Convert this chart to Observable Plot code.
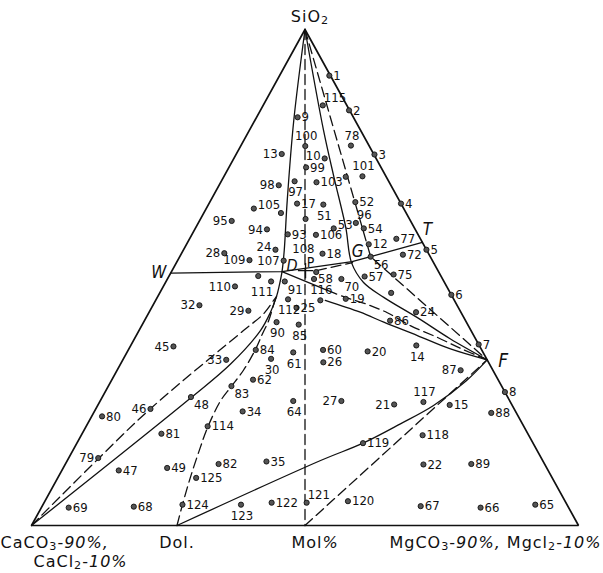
<!DOCTYPE html>
<html><head><meta charset="utf-8">
<script src="https://cdn.jsdelivr.net/npm/d3@7"></script>
<script src="https://cdn.jsdelivr.net/npm/@observablehq/plot@0.6"></script>
<style>html,body{margin:0;padding:0;background:#fff}svg{display:block}</style>
</head><body><div id="chart"></div>
<script>
// ---------- DATA (ternary composition, mol%: SiO2, MgCO3; CaCO3 = remainder) ----------
const vertices = [[100, 0], [0, 0], [0, 100]]; // SiO2, CaCO3 corner, MgCO3 corner

// labelled samples: [label, SiO2, MgCO3]
const samples = [
  ["1",90.7,9.1],["115",84.7,10.9],["2",83.7,16.2],["9",82.3,7.5],["100",76.5,11.8],
  ["78",76.6,20.1],["3",74.8,25.3],["13",74.9,8.3],["10",74.0,16.6],["99",72.2,14.1],
  ["101",70.4,25.3],["98",68.6,10.9],["97",69.4,13.4],["103",69.2,17.5],["4",64.9,35.1],
  ["105",63.9,8.7],["17",64.9,16.1],["51",64.7,21.0],["52",65.2,26.6],["53",59.9,25.3],
  ["96",61.0,28.8],["54",59.9,30.8],["12",56.7,33.3],["77",57.8,37.8],["5",55.6,44.4],
  ["72",54.6,40.6],["56",54.2,34.9],["75",50.6,40.9],["57",50.2,35.8],["70",49.7,31.8],
  ["58",49.7,26.8],["18",54.8,25.8],["106",58.6,22.7],["93",58.7,17.5],["94",59.7,13.2],
  ["95",61.4,5.9],["24",55.6,16.8],["28",54.9,7.8],["109",53.5,13.1],["107",53.4,19.4],
  ["110",48.2,13.1],["111",49.2,19.2],["91",49.2,21.7],["116",45.4,30.1],["19",45.7,34.6],
  ["6",46.5,53.5],["32",44.4,8.5],["29",43.3,18.0],["112",45.6,24.1],["25",43.9,26.5],
  ["24",43.0,48.8],["86",41.3,44.9],["90",41.0,24.3],["85",40.5,28.6],["45",36.1,7.9],
  ["84",35.4,23.3],["60",35.4,35.6],["20",35.1,43.9],["14",36.3,52.2],["33",33.4,18.9],
  ["30",33.6,27.0],["61",34.9,30.4],["26",32.9,36.9],["7",36.5,63.5],["87",31.3,62.8],
  ["62",29.4,25.8],["83",28.1,22.5],["48",25.9,16.2],["34",23.0,27.1],["64",25.1,35.3],
  ["27",25.1,44.1],["21",24.4,54.1],["117",24.9,59.2],["15",24.3,64.3],["8",26.9,73.1],
  ["88",22.7,72.7],["81",18.5,14.5],["114",20.0,22.2],["118",18.2,62.4],["119",16.6,52.3],
  ["80",22.0,1.9],["46",23.5,10.0],["79",13.6,5.4],["47",11.1,10.4],["49",11.6,19.0],
  ["82",12.4,28.0],["35",12.9,36.5],["125",9.6,25.3],["69",3.6,5.0],["68",3.8,16.8],
  ["124",4.2,25.5],["123",4.2,36.2],["122",4.6,41.6],["121",4.6,48.0],["120",4.9,55.4],
  ["67",3.9,69.2],["66",3.6,80.3],["65",4.2,90.0],["22",12.3,65.5],["89",12.4,74.2]
];
// samples drawn without a number: [SiO2, MgCO3]
const unlabeledSamples = [[70.3,22.3],[63.0,14.1],[61.8,19.2],[51.1,26.5],[50.3,16.3],[46.9,42.3]];
// number printed without a visible dot
const looseLabels = [["108",55.8,21.8]];

// lettered points: [name, SiO2, MgCO3]
const keyPoints = [["W",50.9,0],["D",51.2,20.2],["P",51.4,24.4],["G",54.2,34.9],["T",57.1,42.9],["F",33.4,66.6]];

// boundary curves: [SiO2, MgCO3] vertices
const curveApexDL   = [[100,0],[81.7,7.1],[65.5,14.0],[55.4,18.5],[51.2,20.2],[48.4,21.1],[46.2,21.7],[42.9,22.2],[39.3,22.2],[32.5,20.1],[25.8,16.3],[0,0]];
const curveLeftDash = [[0,0],[13.5,5.5],[23.6,10.0],[39.3,19.1],[42.7,21.1],[45.6,21.6],[46.2,21.7]];
const curveDolDash  = [[0,26.6],[4.2,25.5],[9.7,24.2],[15.7,23.0],[19.8,22.3],[25.2,22.0],[28.0,22.5],[31.3,23.1],[35.5,23.2],[38.7,22.9],[41.3,22.7],[45.0,21.9],[46.2,21.7]];
const curveDolF     = [[0,26.6],[13.1,46.3],[16.6,52.3],[20.5,57.2],[24.2,61.4],[29.2,64.9],[33.4,66.6]];
const lineMolF      = [[0,50],[33.4,66.6]];
const lineApexMol   = [[100,0],[0,50]];
const curveApexF    = [[100,0],[79.6,13.6],[70.2,20.2],[60.1,27.4],[53.0,32.0],[49.0,36.2],[46.0,41.4],[41.9,49.6],[37.6,57.8],[33.4,66.6]];
const lineApexGF    = [[100,0],[54.2,34.9],[33.4,66.6]];
const lineWDGT      = [[50.9,0],[51.2,20.2],[53.2,32.0],[54.2,34.9],[57.1,42.9]];
const linePG        = [[51.4,26.4],[53.0,32.2]];
const lineD116      = [[51.2,20.2],[47.4,30.4]];
const curve116FDash = [[47.4,30.4],[46.0,34.4],[44.7,38.7],[42.9,43.6],[40.3,49.1],[37.9,55.3],[35.7,60.6],[33.4,66.6]];
const curve116F     = [[45.4,31.0],[43.0,38.6],[41.0,43.9],[38.3,51.4],[35.6,58.8],[33.4,66.6]];

// axis / corner captions: [text, SiO2, MgCO3]  (_x = subscript, *..* = italic)
const cornerLabels = [
  ["SiO_2",100,0],["CaCO_3-*90%,*",0,0],["CaCl_2-*10%*",0,0],["Dol.",0,26.6],["Mol*%*",0,50],
  ["MgCO_3-*90%,* Mgcl_2-*10%*",0,100]
];

// ---------- STYLE ----------
const FONT = "'Liberation Sans Narrow','DejaVu Sans Condensed','Liberation Sans',sans-serif";
const CAPFONT = "'DejaVu Sans',sans-serif";
const INK = "#111";
const px = p => p[1] + p[0] / 2, py = p => p[0];          // ternary -> cartesian for [si,mg]
const sx = d => d[2] + d[1] / 2, sy = d => d[1];          // for [label,si,mg]

const place = {
  r:  {textAnchor:"start",  dx:4,  dy:0},
  ru: {textAnchor:"start",  dx:4,  dy:-4},
  l:  {textAnchor:"end",    dx:-4, dy:0},
  lu: {textAnchor:"end",    dx:-4, dy:-3},
  t:  {textAnchor:"middle", dx:1,  dy:-10},
  b:  {textAnchor:"middle", dx:1,  dy:11},
  tr: {textAnchor:"start",  dx:1,  dy:-8},
  br: {textAnchor:"start",  dx:3,  dy:8},
  bl: {textAnchor:"end",    dx:2,  dy:10}
};
const labelSide = {
  "115":"tr","100":"t","78":"t","101":"t","117":"t","116":"t","13":"l","10":"lu","98":"l",
  "97":"b","51":"b","112":"b","90":"b","85":"b","14":"b","30":"b","61":"b","64":"b","123":"b",
  "105":"ru","53":"ru","96":"tr","121":"tr","56":"br","70":"br","91":"br","83":"br","48":"br",
  "111":"bl","94":"l","95":"l","24@55.6":"lu","28":"l","109":"l","107":"l","110":"l","32":"l",
  "29":"l","45":"l","33":"l","87":"l","27":"l","21":"l","46":"l","79":"l"
};
const sideOf = d => labelSide[d[0] + "@" + d[1]] ?? labelSide[d[0]] ?? "r";

const keyStyle = {
  W:{dx:-12,dy:0,fontSize:17,fontStyle:"italic"}, D:{dx:10,dy:-6,fontSize:16,fontStyle:"italic"},
  P:{dx:5,dy:-8,fontSize:14,fontStyle:"normal"}, G:{dx:-13,dy:-5,fontSize:17,fontStyle:"italic"},
  T:{dx:5,dy:-13,fontSize:17,fontStyle:"italic"}, F:{dx:16,dy:1,fontSize:19,fontStyle:"italic"}
};
const cornerStyle = [
  {textAnchor:"middle", dx:5, dy:-13},
  {textAnchor:"start", dx:-31, dy:17},
  {textAnchor:"start", dx:2, dy:36},
  {textAnchor:"middle", dx:0, dy:17},
  {textAnchor:"middle", dx:10, dy:17},
  {textAnchor:"end", dx:23, dy:17}
];

const solidLines  = [[curveApexDL,true],[curveDolF,true],[curveApexF,true],[curve116F,true],[lineWDGT,false],[lineD116,false]];
const dashedLines = [[curveLeftDash,true],[curveDolDash,true],[lineMolF,false],[lineApexMol,false],[lineApexGF,false],[linePG,false],[curve116FDash,true]];

const marks = [
  Plot.line([...vertices, vertices[0]], {x:px, y:py, stroke:INK, strokeWidth:1.7, strokeLinejoin:"miter"}),
  ...solidLines.map(([pts, smooth]) => Plot.line(pts, {x:px, y:py, stroke:INK, strokeWidth:1.3, curve: smooth ? "catmull-rom" : "linear"})),
  ...dashedLines.map(([pts, smooth]) => Plot.line(pts, {x:px, y:py, stroke:INK, strokeWidth:1.3, strokeDasharray:"10,5", curve: smooth ? "catmull-rom" : "linear"})),
  Plot.dot(samples, {x:sx, y:sy, r:2.6, fill:"#555", stroke:INK, strokeWidth:0.9}),
  Plot.dot(unlabeledSamples, {x:px, y:py, r:2.6, fill:"#555", stroke:INK, strokeWidth:0.9}),
  Plot.dot(keyPoints.filter(k => k[0] === "P"), {x:sx, y:sy, symbol:"plus", r:5, stroke:INK, strokeWidth:1.3}),
  ...Object.entries(place).map(([side, o]) =>
    Plot.text(samples.filter(d => sideOf(d) === side), {x:sx, y:sy, text:d => d[0], ...o, lineAnchor:"middle", fontSize:13, fontFamily:FONT, fill:INK})),
  Plot.text(looseLabels, {x:sx, y:sy, text:d => d[0], lineAnchor:"middle", fontSize:13, fontFamily:FONT, fill:INK}),
  ...keyPoints.map(k => Plot.text([k], {x:sx, y:sy, text:d => d[0], lineAnchor:"middle", fontFamily:FONT, fill:INK, ...keyStyle[k[0]]})),
  ...cornerLabels.map((c, i) => Plot.text([c], {x:sx, y:sy, text:d => d[0], lineAnchor:"middle", fontSize:16, fontFamily:CAPFONT, fill:INK, ...cornerStyle[i]}))
];

const chart = Plot.plot({
  width: 603, height: 573, margin: 0,
  x: {domain:[0,100], range:[31,578], axis:null},
  y: {domain:[0,100], range:[525,29], axis:null},
  style: {background:"#fff"},
  marks
});

// rich text: _x subscript, *...* italic; wide spacing for the corner captions
const NS = "http://www.w3.org/2000/svg";
chart.querySelectorAll("text").forEach(node => {
  const g = node.closest("g");
  if (g && (g.getAttribute("font-family") || "").startsWith("'DejaVu Sans'")) node.setAttribute("letter-spacing", "1");
  const s = node.textContent;
  if (!/[_*]/.test(s)) return;
  node.textContent = "";
  let italic = false, buf = "", shift = 0;
  const add = (txt, attrs) => {
    const t = document.createElementNS(NS, "tspan");
    t.textContent = txt;
    for (const k in attrs) t.setAttribute(k, attrs[k]);
    node.appendChild(t);
  };
  const flush = () => {
    if (!buf) return;
    const a = {};
    if (italic) a["font-style"] = "italic";
    if (shift) { a.dy = -shift; shift = 0; }
    add(buf, a); buf = "";
  };
  for (let i = 0; i < s.length; i++) {
    const c = s[i];
    if (c === "*") { flush(); italic = !italic; }
    else if (c === "_") { flush(); add(s[i + 1], {"font-size":"0.7em", dy: 2.5 - shift}); shift = 2.5; i++; }
    else buf += c;
  }
  flush();
});

document.getElementById("chart").appendChild(chart);
</script>
</body></html>
